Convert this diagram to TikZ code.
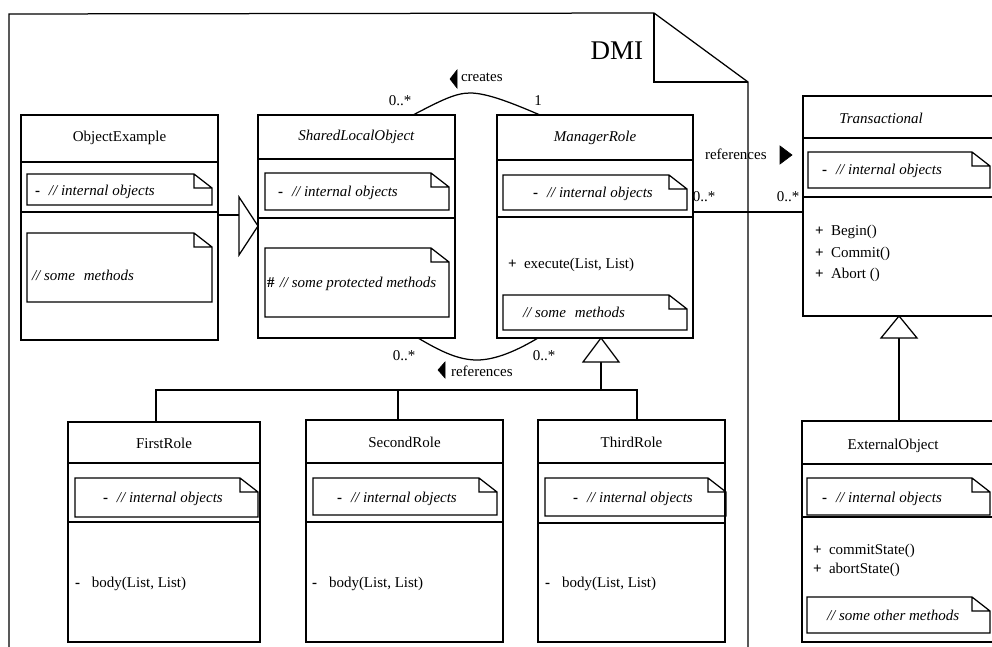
\documentclass[tikz,border=0pt]{standalone}
\usepackage{fontspec}
\setmainfont{Liberation Serif}
\usetikzlibrary{fit}

% UML note outline with a folded top-right corner: x1, y1, x2, y2
\newcommand\notebox[4]{%
  \draw (#1,#2) -- (#3-18,#2) -- (#3,#2+14) -- (#3,#4) -- (#1,#4) -- cycle
        (#3-18,#2) |- (#3,#2+14);}
% visibility markers
\newcommand\vpriv{\textbf{-}}
\newcommand\vpub{\textbf{+}}
\newcommand\vprot{\textbf{\#}}

\begin{document}
\begin{tikzpicture}[x=1pt,y=-1pt,
  line width=1.25pt, line join=miter,
  every node/.style={inner sep=0pt, outer sep=0pt, font=\fontsize{15}{18}\selectfont},
  cls/.style={draw},
  txt/.style={anchor=base west},
  mult/.style={anchor=center},
  gen/.style={fill=white},
  dir/.style={fill=black, line width=0.6pt}
]
\path[use as bounding box] (0,0) rectangle (992,647);
\clip (0,0) rectangle (992,647);

% ---------- package DMI ----------
\draw (9,670) -- (9,14) -- (654,13) -- (748,82) -- (748,670);
\draw (654,13) |- (748,82);
\node[font=\fontsize{27}{30}\selectfont, anchor=base east] (dmi) at (643,60) {DMI};

% ---------- ObjectExample ----------
\node[cls, fit={(21,115) (218,340)}] (oe) {};
\draw (oe.west |- 0,162) -- (oe.east |- 0,162);
\draw (oe.west |- 0,212) -- (oe.east |- 0,212);
\node (oe-t) at (119.5,138) {ObjectExample};
\notebox{27}{174}{212}{205}
\node[txt] (oe-a) at (35,195) {\vpriv\hspace{.6em}\textit{// internal objects}};
\notebox{27}{233}{212}{302}
\node[txt] (oe-m) at (32,280) {\textit{// some\hspace{.6em}methods}};

% ---------- SharedLocalObject ----------
\node[cls, fit={(258,115) (455,338)}] (sl) {};
\draw (sl.west |- 0,159) -- (sl.east |- 0,159);
\draw (sl.west |- 0,218) -- (sl.east |- 0,218);
\node (sl-t) at (356.5,137) {\textit{SharedLocalObject}};
\notebox{265}{173}{449}{210}
\node[txt] (sl-a) at (278,196) {\vpriv\hspace{.6em}\textit{// internal objects}};
\notebox{265}{248}{449}{317}
\node[txt] (sl-m) at (267,287) {\vprot\hspace{.35em}\textit{// some protected methods}};

% ---------- ManagerRole ----------
\node[cls, fit={(497,115) (693,338)}] (mr) {};
\draw (mr.west |- 0,160) -- (mr.east |- 0,160);
\draw (mr.west |- 0,217) -- (mr.east |- 0,217);
\node (mr-t) at (595,138) {\textit{ManagerRole}};
\notebox{503}{175}{687}{210}
\node[txt] (mr-a) at (533,197) {\vpriv\hspace{.6em}\textit{// internal objects}};
\node[txt] (mr-op) at (508,268) {\vpub\hspace{.5em}execute(List, List)};
\notebox{503}{295}{687}{330}
\node[txt] (mr-m) at (523,317) {\textit{// some\hspace{.6em}methods}};

% ---------- Transactional ----------
\node[cls, fit={(803,96) (1000,316)}] (tr) {};
\draw (tr.west |- 0,138) -- (tr.east |- 0,138);
\draw (tr.west |- 0,197) -- (tr.east |- 0,197);
\node (tr-t) at (881,118) {\textit{Transactional}};
\notebox{808}{152}{990}{188}
\node[txt] (tr-a) at (822,175) {\vpriv\hspace{.6em}\textit{// internal objects}};
\node[txt] (tr-op1) at (815,235) {\vpub\hspace{.5em}Begin()};
\node[txt] (tr-op2) at (815,257) {\vpub\hspace{.5em}Commit()};
\node[txt] (tr-op3) at (815,278) {\vpub\hspace{.5em}Abort ()};

% ---------- FirstRole ----------
\node[cls, fit={(68,422) (260,642)}] (fr) {};
\draw (fr.west |- 0,463) -- (fr.east |- 0,463);
\draw (fr.west |- 0,522) -- (fr.east |- 0,522);
\node (fr-t) at (164,443) {FirstRole};
\notebox{75}{478}{258}{517}
\node[txt] (fr-a) at (103,502) {\vpriv\hspace{.6em}\textit{// internal objects}};
\node[txt] (fr-op) at (75,587) {\vpriv\hspace{.8em}body(List, List)};

% ---------- SecondRole ----------
\node[cls, fit={(306,420) (503,642)}] (sr) {};
\draw (sr.west |- 0,463) -- (sr.east |- 0,463);
\draw (sr.west |- 0,522) -- (sr.east |- 0,522);
\node (sr-t) at (404.5,442) {SecondRole};
\notebox{313}{478}{497}{515}
\node[txt] (sr-a) at (337,502) {\vpriv\hspace{.6em}\textit{// internal objects}};
\node[txt] (sr-op) at (312,587) {\vpriv\hspace{.8em}body(List, List)};

% ---------- ThirdRole ----------
\node[cls, fit={(538,420) (725,642)}] (th) {};
\draw (th.west |- 0,463) -- (th.east |- 0,463);
\draw (th.west |- 0,523) -- (th.east |- 0,523);
\node (th-t) at (631.5,442) {ThirdRole};
\notebox{545}{478}{726}{516}
\node[txt] (th-a) at (573,502) {\vpriv\hspace{.6em}\textit{// internal objects}};
\node[txt] (th-op) at (545,587) {\vpriv\hspace{.8em}body(List, List)};

% ---------- ExternalObject ----------
\node[cls, fit={(802,421) (1000,642)}] (eo) {};
\draw (eo.west |- 0,464) -- (eo.east |- 0,464);
\draw (eo.west |- 0,517) -- (eo.east |- 0,517);
\node (eo-t) at (893,446) {ExternalObject};
\notebox{807}{478}{990}{515}
\node[txt] (eo-a) at (822,502) {\vpriv\hspace{.6em}\textit{// internal objects}};
\node[txt] (eo-op1) at (813,554) {\vpub\hspace{.5em}commitState()};
\node[txt] (eo-op2) at (813,573) {\vpub\hspace{.5em}abortState()};
\notebox{807}{597}{990}{633}
\node[txt] (eo-m) at (827,620) {\textit{// some other methods}};

% ---------- generalization: ObjectExample -> SharedLocalObject ----------
\coordinate (g1tip) at (sl.west |- 0,226);
\coordinate (g1base) at (240,215);
\draw (oe.east |- g1base) -- (g1base);
\draw[gen] (g1tip) -- ++(-19,-29) -- ++(0,58) -- cycle;

% ---------- generalization: roles -> ManagerRole ----------
\coordinate (g2tip) at (mr.south -| 601,0);
\coordinate (g2base) at (601,362);
\coordinate (bus) at (601,390);
\draw (g2base) -- (bus);
\draw (fr.north -| 156,0) -- (156,390) -- (637,390) -- (th.north -| 637,0);
\draw (sr.north -| 398,0) -- (398,390);
\draw[gen] (g2tip) -- ++(-18,24) -- ++(36,0) -- cycle;

% ---------- generalization: ExternalObject -> Transactional ----------
\coordinate (g3tip) at (tr.south -| 899,0);
\coordinate (g3base) at (899,338);
\draw (g3base) -- (eo.north -| g3base);
\draw[gen] (g3tip) -- ++(-18,22) -- ++(36,0) -- cycle;

% ---------- association: creates ----------
\draw (sl.north -| 413,0) .. controls (440,101) and (455,93) .. (470,93)
      .. controls (487,93) and (512,103) .. (mr.north -| 540,0);
\node[mult] (cr-m1) at (400,101) {0..*};
\node[mult] (cr-m2) at (538,101) {1};
\draw[dir] (450,79) -- (457,70) -- (457,88) -- cycle;
\node[txt] (cr-l) at (461,82) {creates};

% ---------- association: references (ManagerRole - Transactional) ----------
\draw (mr.east |- 0,212) -- (tr.west |- 0,212);
\node[mult] (rf-m1) at (704,197) {0..*};
\node[mult] (rf-m2) at (788,197) {0..*};
\node[txt] (rf-l) at (705,160) {references};
\draw[dir] (792,155) -- (780,146) -- (780,164) -- cycle;

% ---------- association: references (SharedLocalObject - ManagerRole) ----------
\draw (sl.south -| 418,0) .. controls (440,351) and (458,360) .. (477,360)
      .. controls (496,360) and (518,350) .. (mr.south -| 538,0);
\node[mult] (rb-m1) at (404,356) {0..*};
\node[mult] (rb-m2) at (544,356) {0..*};
\draw[dir] (438,370) -- (445,362) -- (445,378) -- cycle;
\node[txt] (rb-l) at (451,376) {references};
\end{tikzpicture}
\end{document}
